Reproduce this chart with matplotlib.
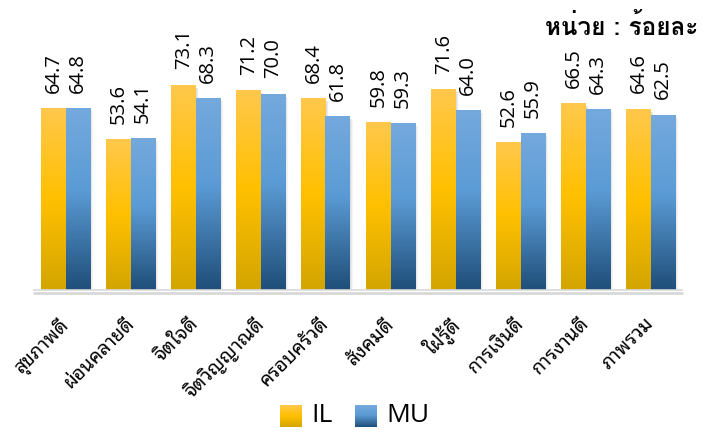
import numpy as np
import matplotlib
matplotlib.use("Agg")
import matplotlib.pyplot as plt
from matplotlib import font_manager as fm
from matplotlib.ft2font import FT2Font
from matplotlib.colors import LinearSegmentedColormap
from matplotlib.patches import Rectangle

categories = ["สุขภาพดี", "ผ่อนคลายดี", "จิตใจดี", "จิตวิญญาณดี", "ครอบครัวดี",
              "สังคมดี", "ใฝ่รู้ดี", "การเงินดี", "การงานดี", "ภาพรวม"]
il_values = [64.7, 53.6, 73.1, 71.2, 68.4, 59.8, 71.6, 52.6, 66.5, 64.6]
mu_values = [64.8, 54.1, 68.3, 70.0, 61.8, 59.3, 64.0, 55.9, 64.3, 62.5]
series_names = ["IL", "MU"]
unit_label = "หน่วย : ร้อยละ"


def thai_families():
    """Installed families with Thai glyphs, mapped to whether a bold face exists."""
    found = {}
    seen = set()
    for f in fm.fontManager.ttflist:
        if f.fname in seen:
            continue
        seen.add(f.fname)
        try:
            cmap = FT2Font(f.fname).get_charmap()
        except Exception:
            continue
        if 0x0E01 in cmap and 0x0E14 in cmap and 0x0E35 in cmap:
            w = f.weight if isinstance(f.weight, int) else 400
            found[f.name] = found.get(f.name, False) or w >= 600
    return found


def pick(found, need_bold=False):
    prefs = ["Tahoma", "Leelawadee UI", "Noto Sans Thai Looped", "Noto Looped Thai",
             "Loma", "Garuda", "Sarabun", "Norasi", "Waree", "Umpush", "Kinnari",
             "Noto Sans Thai", "Noto Sans Thai UI"]
    names = [n for n in prefs if n in found]
    names += sorted(n for n in found if "Looped" in n and n not in names)
    names += sorted(n for n in found if n not in names)
    if need_bold:
        bold = [n for n in names if found[n]]
        if bold:
            return bold[0]
    return names[0] if names else None


found = thai_families()
thai = pick(found)
thai_bold = pick(found, need_bold=True)
base = ["Open Sans", "DejaVu Sans"]
families = ([thai] if thai else []) + base
bold_families = ([thai_bold] if thai_bold else []) + base
plt.rcParams["font.family"] = families

fig = plt.figure(figsize=(7.06, 4.32), dpi=100)
ax = fig.add_axes([33 / 706, (432 - 290) / 432, 650 / 706, 280 / 432])
ax.set_xlim(-0.5, 9.5)
ax.set_ylim(0, 100)
ax.axis("off")

cmap_il = LinearSegmentedColormap.from_list(
    "il", [(0.0, "#D3A500"), (0.5, "#FFC000"), (1.0, "#FFC84C")])
cmap_mu = LinearSegmentedColormap.from_list(
    "mu", [(0.0, "#1F4E79"), (0.55, "#5B9BD5"), (1.0, "#74A9DD")])
grad = np.linspace(0, 1, 256).reshape(-1, 1)

width = 0.37
x = np.arange(len(categories))


def shadow(x0, w, h):
    for k, a in enumerate([0.10, 0.07, 0.05, 0.03]):
        d = 0.012 * (k + 1)
        ax.add_patch(Rectangle((x0 + 0.01, -0.6 - 0.25 * k), w + d, h - 0.3 + 0.25 * k,
                               facecolor="#7F7F7F", edgecolor="none", alpha=a, zorder=1))


for vals, off, cm in [(il_values, -width / 2, cmap_il), (mu_values, width / 2, cmap_mu)]:
    bars = ax.bar(x + off, vals, width, color="none", edgecolor="none", zorder=3)
    for b, v in zip(bars, vals):
        x0 = b.get_x()
        shadow(x0, width, v)
        ax.imshow(grad, cmap=cm, aspect="auto", origin="lower",
                  extent=(x0, x0 + width, 0, v), zorder=2, interpolation="bicubic")
        ax.annotate(f"{v:.1f}", xy=(x0 + width / 2, v), xytext=(0.5, 11.5),
                    textcoords="offset points", rotation=90, ha="center", va="bottom",
                    fontsize=14.5, family=base, color="#000000")

# baseline with a soft shadow
ax.plot([-0.5, 9.5], [-0.9, -0.9], color="#BFBFBF", lw=2.0, alpha=0.6, zorder=1,
        solid_capstyle="butt", clip_on=False)
ax.plot([-0.5, 9.5], [0, 0], color="#D9D9D9", lw=1.2, zorder=4,
        solid_capstyle="butt", clip_on=False)

for i, lab in enumerate(categories):
    ax.text(i - 0.1, -8.5, lab, rotation=45, rotation_mode="anchor",
            ha="right", va="top", fontsize=14, family=families, color="#000000")

fig.text(0.989, 0.9375, unit_label, ha="right", va="center", fontsize=17.5,
         fontweight="bold", family=bold_families, color="#000000")

# legend built from gradient swatches
for (name, cm, sx, tx) in [(series_names[0], cmap_il, 280, 311), (series_names[1], cmap_mu, 355, 386)]:
    lax = fig.add_axes([sx / 706, (432 - 427) / 432, 22 / 706, 22 / 432])
    lax.imshow(grad, cmap=cm, aspect="auto", origin="lower", extent=(0, 1, 0, 1))
    lax.axis("off")
    fig.text(tx / 706, (432 - 416) / 432, name, ha="left", va="center",
             fontsize=19, family=base, color="#000000")

fig.savefig("out.png", dpi=100)
